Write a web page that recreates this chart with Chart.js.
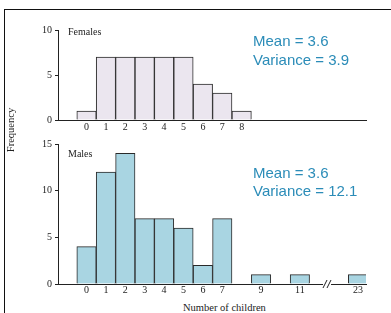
<!DOCTYPE html>
<html>
<head>
<meta charset="utf-8">
<script src="https://cdn.jsdelivr.net/npm/chart.js@4"></script>
<style>
  body { margin: 0; background: #fff; }
  #wrap { position: relative; width: 391px; height: 313px; overflow: hidden; }
  canvas { position: absolute; left: 0; }
  .frame { position: absolute; left: 4px; top: 9px; width: 400px; height: 320px;
           border-top: 1.5px solid #111; border-left: 1.5px solid #111; }
  .lbl { position: absolute; font-family: "Liberation Serif", serif; font-size: 10px;
         color: #222; white-space: nowrap; line-height: 12px; }
  .stat { position: absolute; font-family: "Liberation Sans", Arial, sans-serif; font-size: 15px;
          color: #2b8cb8; white-space: nowrap; }
</style>
</head>
<body>
<div id="wrap">
  <div class="frame"></div>
  <canvas id="females" width="391" height="135" style="top:0"></canvas>
  <canvas id="males" width="391" height="165" style="top:135px"></canvas>
  <div class="lbl" style="left:68px;top:26px">Females</div>
  <div class="lbl" style="left:68px;top:148px">Males</div>
  <div class="lbl" style="left:-19px;top:124px;width:60px;text-align:center;font-size:10.5px;transform:rotate(-90deg)">Frequency</div>
  <div class="lbl" style="left:183px;top:302px;font-size:10.5px">Number of children</div>
  <div class="stat" style="left:253px;top:31px;line-height:19px">Mean = 3.6<br>Variance = 3.9</div>
  <div class="stat" style="left:253px;top:164px;line-height:18px">Mean = 3.6<br>Variance = 12.1</div>
</div>
<script>
const femaleChildren = [0, 1, 2, 3, 4, 5, 6, 7, 8];
const femaleFreq = [1, 7, 7, 7, 7, 7, 4, 3, 1];
const maleChildren = [0, 1, 2, 3, 4, 5, 6, 7, 9, 11, 23];
const maleFreq = [4, 12, 14, 7, 7, 6, 2, 7, 1, 1, 1];
const femaleXTicks = [0, 1, 2, 3, 4, 5, 6, 7, 8];
const maleXTicks = [0, 1, 2, 3, 4, 5, 6, 7, 9, 11, 23];

// broken x axis: everything after 11 is pulled left
const breakAfter = 11;
const breakGap = 9;
const axisPos = n => n > breakAfter ? n - breakGap : n;
const axisLabel = p => {
  const n = p > breakAfter ? p + breakGap : p;
  return String(n);
};

const serif = { family: "'Liberation Serif', serif", size: 10 };

const axisBreak = {
  id: 'axisBreak',
  afterDraw(chart) {
    if (!chart.options.plugins.axisBreak.show) return;
    const x = chart.scales.x.getPixelForValue(12.4);
    const y = chart.chartArea.bottom;
    const ctx = chart.ctx;
    ctx.save();
    ctx.fillStyle = '#fff';
    ctx.fillRect(x - 4, y - 2, 8, 4);
    ctx.strokeStyle = '#222';
    ctx.lineWidth = 1;
    [-2, 2].forEach(d => {
      ctx.beginPath();
      ctx.moveTo(x + d - 2, y + 4);
      ctx.lineTo(x + d + 2, y - 4);
      ctx.stroke();
    });
    ctx.restore();
  }
};

function makeChart(id, xs, ys, xTicks, yMax, fill, padTop, xHeight, tickPad, showBreak) {
  return new Chart(document.getElementById(id), {
    type: 'bar',
    data: {
      datasets: [{
        data: xs.map((x, i) => ({ x: axisPos(x), y: ys[i] })),
        backgroundColor: fill,
        borderColor: '#2a2a2a',
        borderWidth: 1,
        barPercentage: 1,
        categoryPercentage: 1
      }]
    },
    options: {
      responsive: false,
      animation: false,
      layout: { padding: { top: padTop, right: 25, left: 0, bottom: 0 } },
      plugins: {
        legend: { display: false },
        tooltip: { enabled: false },
        axisBreak: { show: showBreak }
      },
      scales: {
        x: {
          type: 'linear',
          offset: false,
          min: -1.47,
          max: 14.41,
          grid: { display: false, drawTicks: false },
          border: { display: true, color: '#222', width: 1 },
          afterBuildTicks: s => { s.ticks = xTicks.map(v => ({ value: axisPos(v) })); },
          afterFit: s => { s.height = xHeight; },
          ticks: {
            autoSkip: false,
            maxRotation: 0,
            padding: tickPad,
            color: '#222',
            font: serif,
            callback: v => axisLabel(v)
          }
        },
        y: {
          min: 0,
          max: yMax,
          grid: { drawOnChartArea: false, tickLength: 3, color: '#222' },
          border: { display: true, color: '#222', width: 1 },
          afterFit: s => { s.width = 58; },
          ticks: { stepSize: 5, padding: 3, color: '#222', font: serif }
        }
      }
    },
    plugins: [axisBreak]
  });
}

makeChart('females', femaleChildren, femaleFreq, femaleXTicks, 10, '#ebe6ef', 30, 15, 1, false);
makeChart('males', maleChildren, maleFreq, maleXTicks, 15, '#a9d5e2', 8, 16, 0, true);
</script>
</body>
</html>
